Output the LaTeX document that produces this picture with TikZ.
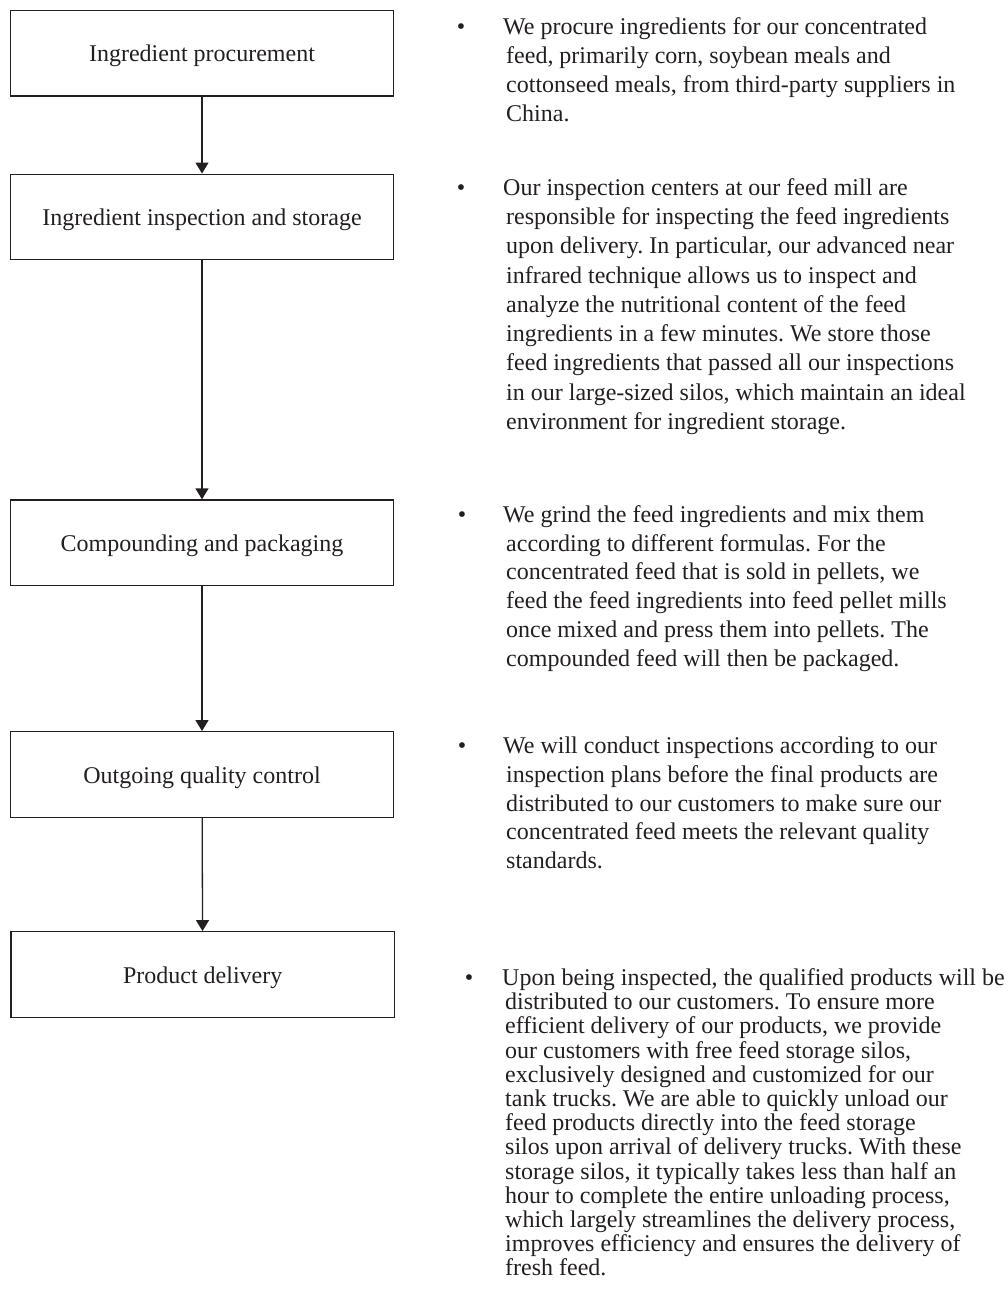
\documentclass[tikz,border=0pt]{standalone}
\usepackage{fontspec}
\setmainfont{Liberation Serif}
\usetikzlibrary{arrows.meta}
\definecolor{ink}{RGB}{35,31,32}
\frenchspacing
\newcommand\bodyfont{\fontsize{24}{29}\selectfont}
% one bulleted description: line pitch, then the lines (first line sits 3pt further left)
\newcommand\paratext[2]{\begin{minipage}[t]{500pt}\frenchspacing\baselineskip=#1pt\raggedright\hspace*{-3pt}#2\end{minipage}}
\begin{document}
\begin{tikzpicture}[x=1pt,y=-1pt,
  stepbox/.style={draw=ink, line width=1.4pt, minimum width=383.5pt, minimum height=85.5pt,
                  inner sep=0pt, text height=17.2pt, text depth=0pt, font=\bodyfont, text=ink},
  flow/.style={draw=ink, line width=1.3pt, -{Triangle[length=11pt,width=13pt]}},
  dot/.style={anchor=base, inner sep=0pt, font=\bodyfont, text=ink},
  para/.style={anchor=base west, inner sep=0pt, font=\bodyfont, text=ink}]
\useasboundingbox (0,0) rectangle (1007,1297);

% process steps
\node[stepbox] (s1) at (202,53.3) {Ingredient procurement};
\node[stepbox] (s2) at (202,217) {Ingredient inspection and storage};
\node[stepbox] (s3) at (202,542.8) {Compounding and packaging};
\node[stepbox] (s4) at (202,774.5) {Outgoing quality control};
\node[stepbox] (s5) at (202.7,974.5) {Product delivery};

\draw[flow] (s1) -- (s2);
\draw[flow] (s2) -- (s3);
\draw[flow] (s3) -- (s4);
\draw[flow] (s4) -- (s5);

% descriptions
\node[dot] (d1) at (461,34.5) {•};
\node[para] (p1) at (506,34.5) {\paratext{29}{We procure ingredients for our concentrated\\
feed, primarily corn, soybean meals and\\
cottonseed meals, from third-party suppliers in\\
China.}};

\node[dot] (d2) at (461,195.5) {•};
\node[para] (p2) at (506,195.5) {\paratext{29.25}{Our inspection centers at our feed mill are\\
responsible for inspecting the feed ingredients\\
upon delivery. In particular, our advanced near\\
infrared technique allows us to inspect and\\
analyze the nutritional content of the feed\\
ingredients in a few minutes. We store those\\
feed ingredients that passed all our inspections\\
in our large-sized silos, which maintain an ideal\\
environment for ingredient storage.}};

\node[dot] (d3) at (462,522.5) {•};
\node[para] (p3) at (506,522.5) {\paratext{28.7}{We grind the feed ingredients and mix them\\
according to different formulas. For the\\
concentrated feed that is sold in pellets, we\\
feed the feed ingredients into feed pellet mills\\
once mixed and press them into pellets. The\\
compounded feed will then be packaged.}};

\node[dot] (d4) at (462,753.5) {•};
\node[para] (p4) at (506,753.5) {\paratext{28.75}{We will conduct inspections according to our\\
inspection plans before the final products are\\
distributed to our customers to make sure our\\
concentrated feed meets the relevant quality\\
standards.}};

\node[dot] (d5) at (469,985.5) {•};
\node[para] (p5) at (505,985.5) {\paratext{24.2}{Upon being inspected, the qualified products will be\\
distributed to our customers. To ensure more\\
efficient delivery of our products, we provide\\
our customers with free feed storage silos,\\
exclusively designed and customized for our\\
tank trucks. We are able to quickly unload our\\
feed products directly into the feed storage\\
silos upon arrival of delivery trucks. With these\\
storage silos, it typically takes less than half an\\
hour to complete the entire unloading process,\\
which largely streamlines the delivery process,\\
improves efficiency and ensures the delivery of\\
fresh feed.}};
\end{tikzpicture}
\end{document}
